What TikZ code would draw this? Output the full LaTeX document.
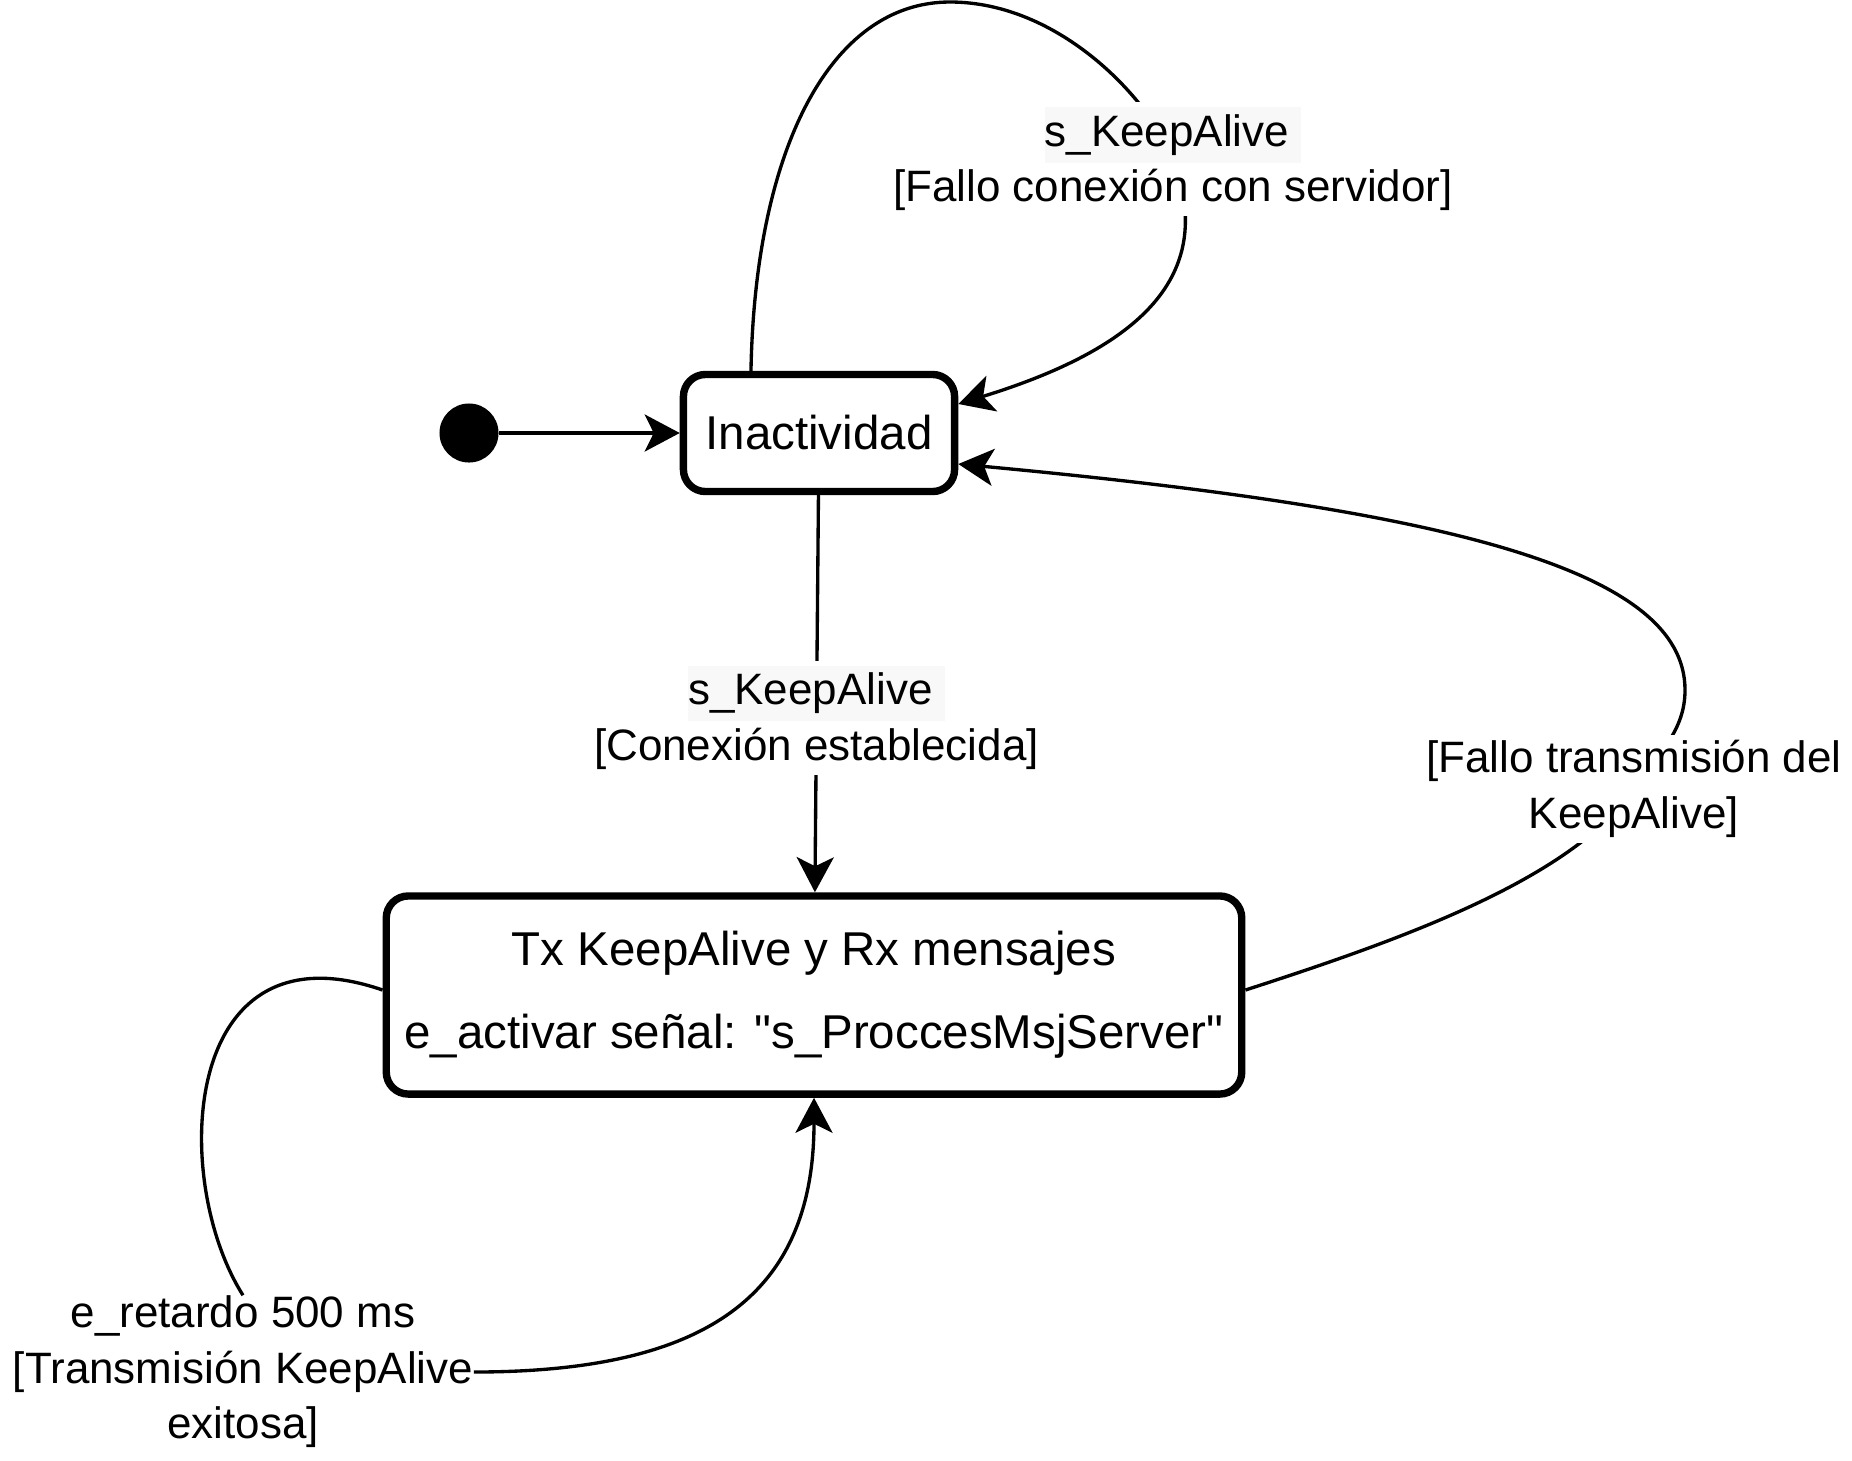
\documentclass[tikz,border=0pt]{standalone}
\usepackage{fontspec}
\setmainfont{Liberation Sans}
\usetikzlibrary{arrows.meta,calc}
\definecolor{sigGray}{RGB}{248,248,248}
\newcommand{\sigBox}[1]{{\setlength{\fboxsep}{0pt}\colorbox{sigGray}{\strut #1\ }}}

\begin{document}
\begin{tikzpicture}[
  x=0.01cm, y=-0.01cm,
  state/.style={draw, line width=2.1pt, rounded corners=0.22cm, fill=white, inner sep=2pt, align=center, font=\fontsize{13.5}{23.6}\selectfont},
  lbl/.style={fill=white, inner sep=1.5pt, align=center, font=\fontsize{12.5}{15.8}\selectfont},
  arr/.style={-{Stealth[length=0.35cm, width=0.37cm, inset=0.09cm]}, line width=0.95pt},
]
\useasboundingbox (0,0) rectangle (1852,1460);
% states
\node[circle, fill=black, minimum size=0.59cm, inner sep=0pt] (ini) at (469,433) {};
\node[state, minimum width=2.71cm, minimum height=1.17cm] (inact) at (819,433) {Inactividad};
\node[state, minimum width=8.55cm, minimum height=1.98cm] (txka) at (814,995)
  {Tx KeepAlive y Rx mensajes\\e\_activar señal: \textquotedbl s\_ProccesMsjServer\textquotedbl};
% initial transition
\draw[arr] (ini) -- (inact);
% Inactividad -> Inactividad (fallo conexion)
\draw[arr] ([xshift=-0.68cm]inact.north) .. controls (755,150) and (830,2) .. (950,2)
  .. controls (1060,2) and (1150,100) .. (1173,159)
  .. controls (1215,270) and (1150,345) .. ([yshift=0.29cm]inact.east);
\node[lbl] (lblFallo) at (1173,159) {\sigBox{s\_KeepAlive}\\{}[Fallo conexión con servidor]};
% Inactividad -> Tx
\draw[arr] (inact) -- node[lbl, pos=0.56] (lblCon) {\sigBox{s\_KeepAlive}\\{}[Conexión establecida]} (txka);
% Tx -> Inactividad (fallo transmision)
\draw[arr] ([yshift=0.05cm]txka.east) .. controls (1400,940) and (1570,880) .. (1634,789)
  .. controls (1660,752) and (1685,730) .. (1685,690)
  .. controls (1685,570) and (1450,510) .. ([yshift=-0.31cm]inact.east);
\node[lbl] (lblTrans) at (1634,789) {[Fallo transmisión del\\KeepAlive]};
% Tx -> Tx (retardo)
\node[lbl, fill=none, inner sep=0pt] (lblRet) at (243,1372) {e\_retardo 500 ms\\{}[Transmisión KeepAlive\\exitosa]};
\draw[arr] ([yshift=0.05cm]txka.west) .. controls (180,920) and (170,1180) .. (lblRet.north)
  (lblRet.east) .. controls (700,1372) and (814,1300) .. (txka.south);
\end{tikzpicture}
\end{document}
